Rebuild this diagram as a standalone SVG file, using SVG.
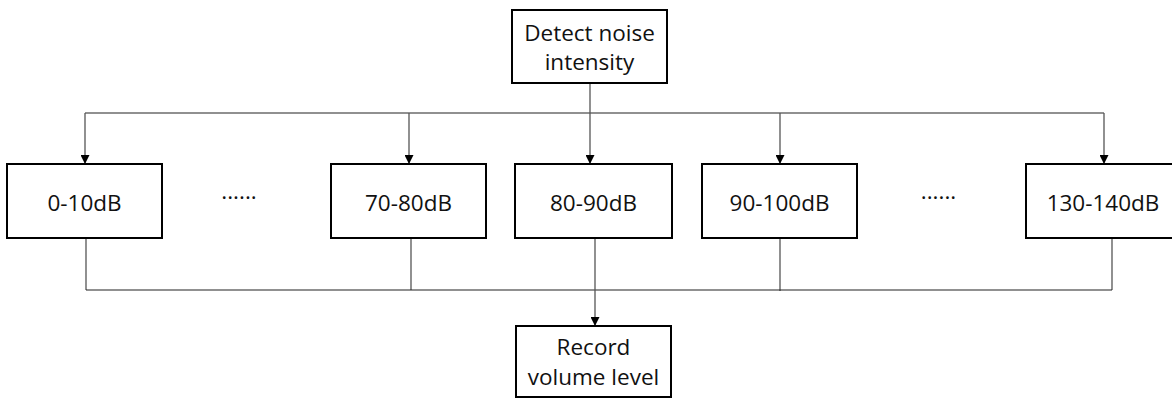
<svg xmlns="http://www.w3.org/2000/svg" width="1172" height="399" viewBox="0 0 1172 399">
<defs>
<style>
.box{fill:#fff;stroke:#000;stroke-width:2}
.t{font-family:"Open Sans","Liberation Sans",sans-serif;font-size:22.5px;fill:#111;text-anchor:middle}
.c{fill:none;stroke:#555;stroke-width:1.3}
.h{fill:none;stroke:#222;stroke-width:1.2}
</style>
<marker id="ah" viewBox="0 0 10 10" refX="10" refY="5" markerWidth="9" markerHeight="9" markerUnits="userSpaceOnUse" orient="auto">
<path d="M0,0 L10,5 L0,10 Z" fill="#000"/>
</marker>
</defs>
<rect width="1172" height="399" fill="#fff"/>
<g id="connectors">
<line class="h" x1="85" y1="113" x2="1104" y2="113"/>
<line class="c" x1="590" y1="83" x2="590" y2="164" marker-end="url(#ah)"/>
<line class="c" x1="85" y1="113" x2="85" y2="164" marker-end="url(#ah)"/>
<line class="c" x1="409" y1="113" x2="409" y2="164" marker-end="url(#ah)"/>
<line class="c" x1="780" y1="113" x2="780" y2="164" marker-end="url(#ah)"/>
<line class="c" x1="1104" y1="113" x2="1104" y2="164" marker-end="url(#ah)"/>
<line class="c" x1="86" y1="238" x2="86" y2="290"/>
<line class="c" x1="411" y1="238" x2="411" y2="290"/>
<line class="c" x1="780" y1="238" x2="780" y2="291"/>
<line class="c" x1="1112" y1="238" x2="1112" y2="290"/>
<line class="h" x1="86" y1="290" x2="1112" y2="290"/>
<line class="c" x1="595" y1="238" x2="595" y2="326" marker-end="url(#ah)"/>
</g>
<g id="detect">
<rect class="box" x="512" y="10" width="155" height="73"/>
<text class="t" x="589.5" y="41">Detect noise</text>
<text class="t" x="589.5" y="70">intensity</text>
</g>
<g id="n0">
<rect class="box" x="7" y="164" width="155" height="74"/>
<text class="t" x="84.5" y="211">0-10dB</text>
</g>
<g id="dots1"><text class="t" x="239" y="199">......</text></g>
<g id="n70">
<rect class="box" x="331" y="164" width="155" height="74"/>
<text class="t" x="408.5" y="211">70-80dB</text>
</g>
<g id="n80">
<rect class="box" x="515" y="164" width="157" height="74"/>
<text class="t" x="593.5" y="211">80-90dB</text>
</g>
<g id="n90">
<rect class="box" x="702" y="164" width="155" height="74"/>
<text class="t" x="779.5" y="211">90-100dB</text>
</g>
<g id="dots2"><text class="t" x="938.5" y="199">......</text></g>
<g id="n130">
<rect class="box" x="1026" y="164" width="156" height="74"/>
<text class="t" x="1103" y="211">130-140dB</text>
</g>
<g id="record">
<rect class="box" x="516" y="326" width="155" height="71"/>
<text class="t" x="593.5" y="355">Record</text>
<text class="t" x="593.5" y="385">volume level</text>
</g>
</svg>
